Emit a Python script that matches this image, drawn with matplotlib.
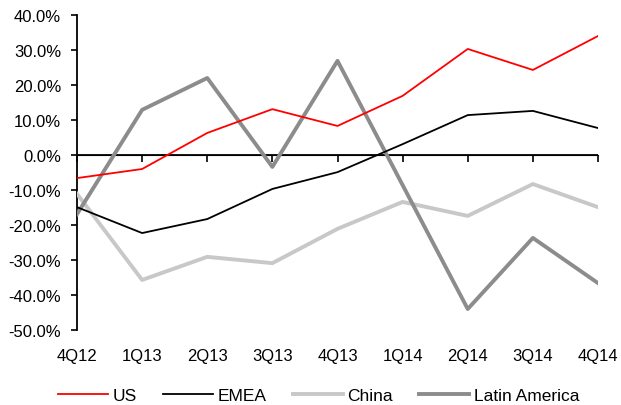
import matplotlib
matplotlib.use("Agg")
import matplotlib.pyplot as plt
from matplotlib.ticker import FuncFormatter

quarters = ["4Q12", "1Q13", "2Q13", "3Q13", "4Q13", "1Q14", "2Q14", "3Q14", "4Q14"]
us = [-6.6, -4.0, 6.3, 13.1, 8.3, 16.9, 30.3, 24.3, 34.0]
emea = [-14.9, -22.3, -18.3, -9.7, -4.9, 3.1, 11.4, 12.6, 7.7]
china = [-11.1, -35.7, -29.1, -30.9, -21.1, -13.4, -17.4, -8.3, -14.9]
latin_america = [-16.9, 12.9, 22.0, -3.4, 26.9, -8.6, -44.0, -23.7, -36.6]
y_ticks = [40, 30, 20, 10, 0, -10, -20, -30, -40, -50]

plt.rcParams["font.family"] = ["Liberation Sans", "DejaVu Sans"]

W, H = 621, 406
fig = plt.figure(figsize=(W / 100, H / 100), dpi=100)
ax = fig.add_axes([77 / W, 1 - 331 / H, (598 - 77) / W, (331 - 16) / H])

x = list(range(len(quarters)))
ax.plot(x, us, color="#ff0000", lw=1.3, label="US", zorder=4)
ax.plot(x, emea, color="#000000", lw=1.3, label="EMEA", zorder=4)
ax.plot(x, china, color="#c8c8c8", lw=2.8, label="China", zorder=3)
ax.plot(x, latin_america, color="#8c8c8c", lw=2.8, label="Latin America", zorder=3)

ymin, ymax = -50, 40
ax.set_xlim(0, len(quarters) - 1)
ax.set_ylim(ymin, ymax)
ax.set_yticks(y_ticks)
ax.yaxis.set_major_formatter(FuncFormatter(lambda v, _: f"{v:.1f}%"))
ax.tick_params(axis="y", direction="out", length=4.5, width=1.2, labelsize=12, pad=7, colors="black")

# category labels along the bottom edge, without tick marks
ax.set_xticks(x)
ax.set_xticklabels(quarters)
ax.tick_params(axis="x", length=0, labelsize=12, pad=13)

for side in ("top", "right", "bottom"):
    ax.spines[side].set_visible(False)
ax.spines["left"].set_linewidth(1.3)

# zero line carrying the category tick marks
ax.axhline(0, color="black", lw=1.3, zorder=2)
zero_frac = (0 - ymin) / (ymax - ymin)
sec = ax.secondary_xaxis(zero_frac)
sec.set_xticks(x)
sec.set_xticklabels([])
sec.tick_params(axis="x", direction="out", length=5, width=1.2, bottom=True, top=False,
                labelbottom=False, labeltop=False)
sec.xaxis.set_ticks_position("bottom")

fig.legend(loc="center", bbox_to_anchor=(0.513, 1 - 396 / H), ncol=4, frameon=False,
           fontsize=12.5, handlelength=2.9, handletextpad=0.25, columnspacing=1.5)

fig.savefig("out.png", dpi=100)
